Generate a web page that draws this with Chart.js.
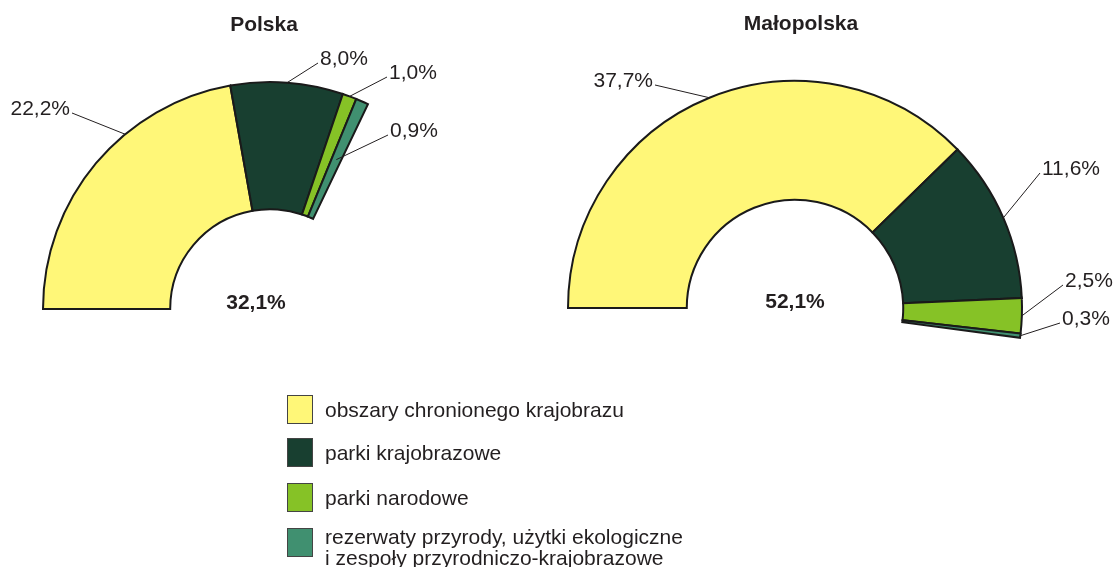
<!DOCTYPE html>
<html>
<head>
<meta charset="utf-8">
<script src="https://cdn.jsdelivr.net/npm/chart.js@4/dist/chart.umd.min.js"></script>
<style>
  body { margin: 0; background: #fff; width: 1114px; height: 567px; position: relative; overflow: hidden;
         font-family: "Liberation Sans", Arial, sans-serif; color: #231f20; }
  canvas { position: absolute; top: 0; }
  #c1 { left: 0; }
  #c2 { left: 557px; }
  .leg { position: absolute; left: 287px; }
  .leg .box { position: absolute; left: 0; width: 24px; height: 27px; border: 1px solid #444; }
  .leg .txt { position: absolute; left: 38px; font-size: 21px; line-height: 21px; white-space: nowrap; }
</style>
</head>
<body>
<canvas id="c1" width="557" height="567"></canvas>
<canvas id="c2" width="557" height="567"></canvas>
<div id="legend"></div>
<script>
const categories = [
  "obszary chronionego krajobrazu",
  "parki krajobrazowe",
  "parki narodowe",
  "rezerwaty przyrody, użytki ekologiczne\ni zespoły przyrodniczo-krajobrazowe"
];
const colors = ["#fff778", "#183f30", "#86c226", "#409070"];
const polskaValues = [22.2, 8.0, 1.0, 0.9];
const malopolskaValues = [37.7, 11.6, 2.5, 0.3];
const polskaTotal = 32.1;
const malopolskaTotal = 52.1;

const fmt = (v) => v.toFixed(1).replace(".", ",") + "%";

// where the ring sits and where the leader lines end (relative to ring centre)
const layouts = {
  c1: { title: "Polska", cx: 270, cy: 309, titleDx: -6, totalDx: -14,
        leaders: [
          { at: 0.63, r: 1, end: [-198, -196], align: "right" },
          { at: 0.5, r: 1, end: [48, -246], align: "left" },
          { at: 0.5, r: 1, end: [117, -232], align: "left" },
          { at: 0.5, r: 0.5, end: [118, -174], align: "left" }
        ] },
  c2: { title: "Małopolska", cx: 238, cy: 308, titleDx: 6, totalDx: 0,
        leaders: [
          { at: 0.5, r: 1, end: [-140, -223], align: "right" },
          { at: 0.5, r: 1, end: [245, -135], align: "left" },
          { at: 0.5, r: 1, end: [268, -23], align: "left" },
          { at: 0.5, r: 1, end: [265, 15], align: "left" }
        ] }
};

const labelPlugin = {
  id: "labels",
  afterDraw(chart) {
    const lay = layouts[chart.canvas.id];
    const ctx = chart.ctx;
    const meta = chart.getDatasetMeta(0);
    const values = chart.data.datasets[0].data;
    ctx.save();
    ctx.fillStyle = "#231f20";
    ctx.strokeStyle = "#231f20";
    ctx.lineWidth = 1;
    ctx.textBaseline = "middle";
    lay.leaders.forEach((ld, i) => {
      const arc = meta.data[i];
      const p = arc.getProps(["x", "y", "startAngle", "endAngle", "innerRadius", "outerRadius"], true);
      const a = p.startAngle + (p.endAngle - p.startAngle) * ld.at;
      const rr = p.innerRadius + (p.outerRadius - p.innerRadius) * ld.r;
      const x0 = p.x + Math.cos(a) * rr;
      const y0 = p.y + Math.sin(a) * rr;
      const x1 = p.x + ld.end[0];
      const y1 = p.y + ld.end[1];
      ctx.beginPath();
      ctx.moveTo(x0, y0);
      ctx.lineTo(x1, y1);
      ctx.stroke();
      ctx.font = "21px 'Liberation Sans', Arial, sans-serif";
      ctx.textAlign = ld.align;
      ctx.fillText(fmt(values[i]), x1 + (ld.align === "left" ? 2 : -2), y1 - 4);
    });
    const c = meta.data[0];
    ctx.font = "bold 21px 'Liberation Sans', Arial, sans-serif";
    ctx.textAlign = "center";
    ctx.fillText(lay.title, c.x + lay.titleDx, c.y - 284);
    ctx.fillText(fmt(chart.options.plugins.labels.total), c.x + lay.totalDx, c.y - 6);
    ctx.restore();
  }
};

const makeChart = (id, values, total) => {
  const lay = layouts[id];
  const canvas = document.getElementById(id);
  const rest = +(100 - values.reduce((s, v) => s + v, 0)).toFixed(1);
  return new Chart(canvas, {
    type: "doughnut",
    data: {
      labels: categories.concat([""]),
      datasets: [{
        data: values.concat([rest]),
        backgroundColor: colors.concat(["rgba(0,0,0,0)"]),
        borderColor: ["#1a1a1a", "#1a1a1a", "#1a1a1a", "#1a1a1a", "rgba(0,0,0,0)"],
        borderWidth: [2, 2, 2, 2, 0],
        borderJoinStyle: "miter",
        clip: false
      }]
    },
    options: {
      responsive: false,
      animation: false,
      events: [],
      rotation: -90,
      circumference: 360,
      radius: 227,
      cutout: 113,
      layout: { padding: { left: 0, right: canvas.width - 2 * lay.cx, top: 2 * lay.cy - canvas.height, bottom: 0 } },
      plugins: { legend: { display: false }, tooltip: { enabled: false }, labels: { total: total } }
    },
    plugins: [labelPlugin]
  });
};

makeChart("c1", polskaValues, polskaTotal);
makeChart("c2", malopolskaValues, malopolskaTotal);

// legend
const legendTops = [395, 438, 483, 528];
const legendDiv = document.getElementById("legend");
categories.forEach((name, i) => {
  const item = document.createElement("div");
  item.className = "leg";
  item.style.top = legendTops[i] + "px";
  const lines = name.split("\n");
  const textTop = lines.length > 1 ? -2 : 4;
  item.innerHTML = `<div class="box" style="background:${colors[i]}"></div>` +
    `<div class="txt" style="top:${textTop}px">${lines.join("<br>")}</div>`;
  legendDiv.appendChild(item);
});
</script>
</body>
</html>
